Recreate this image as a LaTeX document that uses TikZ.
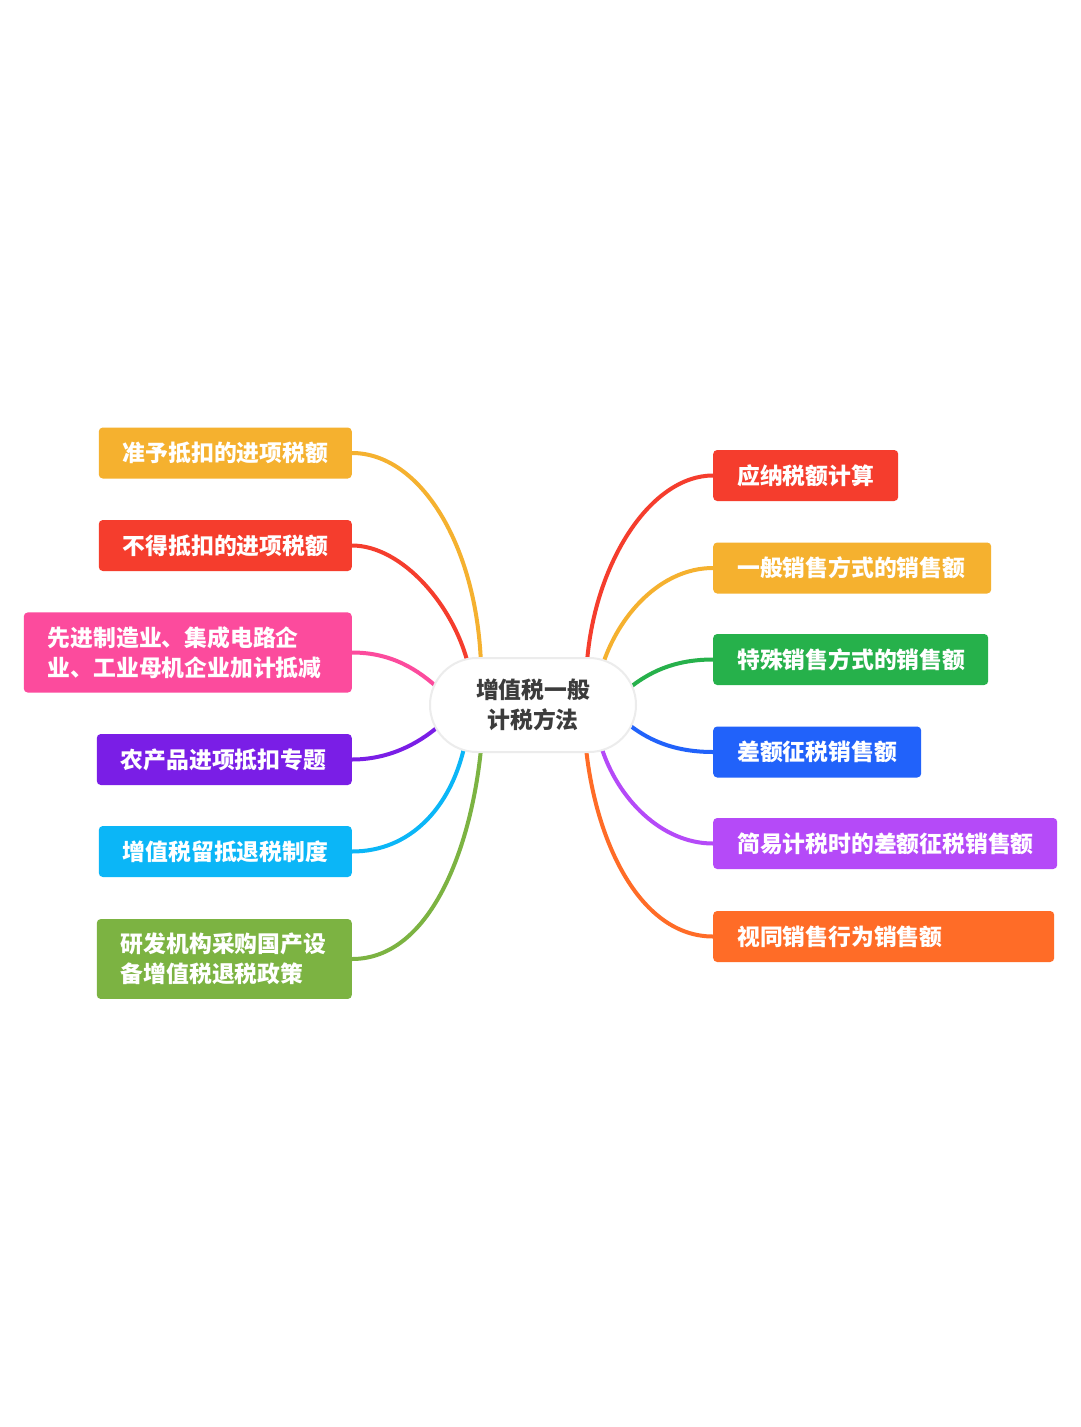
\documentclass[tikz,border=0pt]{standalone}
\usepackage{fontspec}
\newfontfamily\cjk{Noto Sans CJK SC}
\usetikzlibrary{backgrounds}
\definecolor{cOrange}{HTML}{F5B12F}
\definecolor{cRed}{HTML}{F53D2D}
\definecolor{cPink}{HTML}{FC4B9D}
\definecolor{cViolet}{HTML}{7A1EE6}
\definecolor{cCyan}{HTML}{0BB6F7}
\definecolor{cOlive}{HTML}{7CB342}
\definecolor{cGreen}{HTML}{26B14B}
\definecolor{cBlue}{HTML}{2162FA}
\definecolor{cPurple}{HTML}{B54AF8}
\definecolor{cTang}{HTML}{FF6C27}
\definecolor{cText}{HTML}{3C3C3C}
\definecolor{cRim}{HTML}{ECECEC}
\begin{document}
\begin{tikzpicture}[x=1pt,y=-1pt,
  topic/.style={rounded corners=4pt, text=white, inner xsep=24pt, inner ysep=14pt,
    minimum height=51pt, align=left,
    font=\cjk\bfseries\fontsize{22.8}{30}\selectfont},
  leftbox/.style={topic, anchor=east},
  rightbox/.style={topic, anchor=west},
  conn/.style={line width=4pt, line cap=round}
]
\useasboundingbox (0,0) rectangle (1080,1427);

% central topic
\node[fill=white, draw=cRim, line width=2pt,
  rounded corners=47pt, minimum width=206pt, minimum height=94pt, align=center,
  text=cText, font=\cjk\bfseries\fontsize{22.8}{30}\selectfont] (c) at (533,705)
  {增值税一般\\计税方法};

% left topics
\node[leftbox, fill=cOrange, text width=205pt] (L1) at (352,453) {准予抵扣的进项税额};
\node[leftbox, fill=cRed, text width=205pt] (L2) at (352,545.5) {不得抵扣的进项税额};
\node[leftbox, fill=cPink, text width=280pt] (L3) at (352,652.5) {先进制造业、集成电路企\\业、工业母机企业加计抵减};
\node[leftbox, fill=cViolet, text width=207pt] (L4) at (352,759.5) {农产品进项抵扣专题};
\node[leftbox, fill=cCyan, text width=205pt] (L5) at (352,851.5) {增值税留抵退税制度};
\node[leftbox, fill=cOlive, text width=207pt] (L6) at (352,959) {研发机构采购国产设\\备增值税退税政策};

% right topics
\node[rightbox, fill=cRed, text width=137pt] (R1) at (713,475.5) {应纳税额计算};
\node[rightbox, fill=cOrange, text width=230pt] (R2) at (713,568) {一般销售方式的销售额};
\node[rightbox, fill=cGreen, text width=227pt] (R3) at (713,659.5) {特殊销售方式的销售额};
\node[rightbox, fill=cBlue, text width=160pt] (R4) at (713,752) {差额征税销售额};
\node[rightbox, fill=cPurple, text width=296pt] (R5) at (713,843.5) {简易计税时的差额征税销售额};
\node[rightbox, fill=cTang, text width=293pt] (R6) at (713,936.5) {视同销售行为销售额};

% attachment points on the central topic
\coordinate (eL1) at ([shift={(-52,-40)}]c.center);
\coordinate (eL2) at ([shift={(-64,-37)}]c.center);
\coordinate (eL3) at ([shift={(-95,-17)}]c.center);
\coordinate (eL4) at ([shift={(-93,20)}]c.center);
\coordinate (eL5) at ([shift={(-69,43)}]c.center);
\coordinate (eL6) at ([shift={(-52,44)}]c.center);
\coordinate (eR1) at ([shift={(54,-43)}]c.center);
\coordinate (eR2) at ([shift={(69,-38)}]c.center);
\coordinate (eR3) at ([shift={(95,-16)}]c.center);
\coordinate (eR4) at ([shift={(95,19)}]c.center);
\coordinate (eR5) at ([shift={(68,41)}]c.center);
\coordinate (eR6) at ([shift={(53,43)}]c.center);

\begin{scope}[on background layer]
\fill[white] (0,0) rectangle (1080,1427);
\draw[conn, cOrange] (L1.east) .. controls +(68,0) and +(-4,-120) .. (eL1);
\draw[conn, cRed]    (L2.east) .. controls +(50,0) and +(-14,-62) .. (eL2);
\draw[conn, cPink]   (L3.east) .. controls +(40,0) and +(-20,-18) .. (eL3);
\draw[conn, cViolet] (L4.east) .. controls +(42,0) and +(-16,14) .. (eL4);
\draw[conn, cCyan]   (L5.east) .. controls +(58,0) and +(-14,60) .. (eL5);
\draw[conn, cOlive]  (L6.east) .. controls +(78,0) and +(-10,100) .. (eL6);
\draw[conn, cRed]    (R1.west) .. controls +(-62,0) and +(8,-100) .. (eR1);
\draw[conn, cOrange] (R2.west) .. controls +(-52,0) and +(16,-52) .. (eR2);
\draw[conn, cGreen]  (R3.west) .. controls +(-40,0) and +(20,-16) .. (eR3);
\draw[conn, cBlue]   (R4.west) .. controls +(-42,0) and +(18,14) .. (eR4);
\draw[conn, cPurple] (R5.west) .. controls +(-52,0) and +(16,52) .. (eR5);
\draw[conn, cTang]   (R6.west) .. controls +(-72,0) and +(10,96) .. (eR6);
\end{scope}
\end{tikzpicture}
\end{document}
